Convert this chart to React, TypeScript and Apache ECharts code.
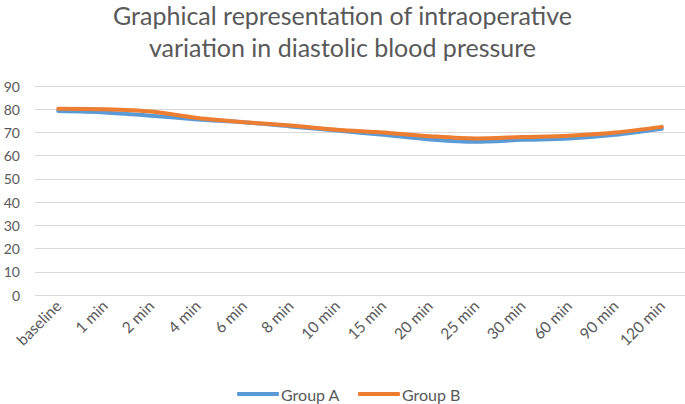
import React, { useEffect, useRef } from "react";
import * as echarts from "echarts";

const categories = ["baseline", "1 min", "2 min", "4 min", "6 min", "8 min", "10 min", "15 min", "20 min", "25 min", "30 min", "60 min", "90 min", "120 min"];
const groupA = [79.2, 78.6, 77.2, 75.6, 74.4, 72.6, 70.8, 69.0, 67.0, 66.0, 66.8, 67.4, 69.0, 71.6];
const groupB = [80.2, 80.0, 79.0, 76.2, 74.4, 73.0, 71.2, 70.0, 68.4, 67.4, 68.0, 68.6, 70.0, 72.4];
const yTicks = { min: 0, max: 90, interval: 10 };

const FONT = "Lato, 'Open Sans', sans-serif";
const GRAY = "#595959";

export default function App() {
  const ref = useRef<HTMLDivElement>(null);
  useEffect(() => {
    if (!ref.current) return;
    const chart = echarts.init(ref.current, undefined, { renderer: "svg" });
    chart.setOption({
      animation: false,
      title: {
        text: "Graphical representation of intraoperative\nvariation in diastolic blood pressure",
        left: "center",
        top: -6,
        textStyle: { fontFamily: FONT, fontSize: 25, fontWeight: "normal", color: GRAY, lineHeight: 32 },
      },
      legend: {
        bottom: -3,
        left: 232,
        itemWidth: 42,
        itemHeight: 4,
        itemGap: 18,
        icon: "roundRect",
        textStyle: { fontFamily: FONT, fontSize: 16, color: GRAY, padding: [0, 0, 0, -3] },
        data: ["Group A", "Group B"],
      },
      grid: { left: 35, right: 0, top: 86, bottom: 109, containLabel: false },
      xAxis: {
        type: "category",
        data: categories,
        boundaryGap: true,
        axisLine: { show: false },
        axisTick: { show: false },
        axisLabel: { rotate: 45, fontFamily: FONT, fontSize: 15.5, color: GRAY, interval: 0, margin: 8 },
      },
      yAxis: {
        type: "value",
        min: yTicks.min,
        max: yTicks.max,
        interval: yTicks.interval,
        axisLine: { show: false },
        axisTick: { show: false },
        axisLabel: { fontFamily: FONT, fontSize: 14, color: GRAY, margin: 15 },
        splitLine: { lineStyle: { color: "#d9d9d9", width: 1 } },
      },
      series: [
        {
          name: "Group A",
          type: "line",
          data: groupA,
          smooth: 0.3,
          symbol: "none",
          lineStyle: { color: "#5b9bd5", width: 4, cap: "round" },
          itemStyle: { color: "#5b9bd5" },
        },
        {
          name: "Group B",
          type: "line",
          data: groupB,
          smooth: 0.3,
          symbol: "none",
          lineStyle: { color: "#ed7d31", width: 4, cap: "round" },
          itemStyle: { color: "#ed7d31" },
        },
      ],
    });
    return () => chart.dispose();
  }, []);
  return <div ref={ref} style={{ width: 685, height: 404, position: "absolute", left: 0, top: 0 }} />;
}
